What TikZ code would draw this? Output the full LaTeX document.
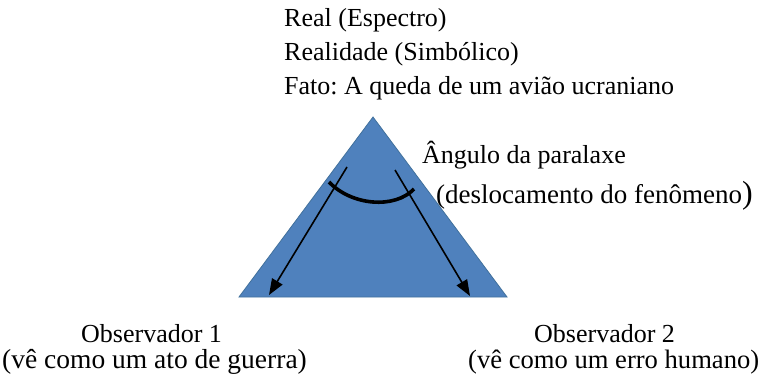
\documentclass[tikz,border=0pt]{standalone}
\usepackage{fontspec}
\setmainfont{Liberation Serif}
\usepackage{xcolor}
\usepackage{tikz}
\usetikzlibrary{arrows.meta,positioning}

\definecolor{triblue}{HTML}{4F81BD}
\definecolor{triedge}{HTML}{41719C}
\frenchspacing

\begin{document}
\begin{tikzpicture}[
  x=1pt, y=-1pt,
  txt/.style={inner sep=0pt, align=left, font=\fontsize{26}{34}\selectfont},
  obs/.style={inner sep=0pt, align=left, font=\fontsize{26}{26}\selectfont},
  arr/.style={-{Triangle[length=16pt,width=12pt]}, line width=1.6pt, draw=black},
  anglearc/.style={line width=3.6pt, draw=black}
]
\useasboundingbox (0,0) rectangle (763,374);
%% ── Triangle (corners) ──────────────────────────────────────────────────
\coordinate (apex) at (373,117);
\coordinate (bl)   at (239,297);
\coordinate (br)   at (507,297);
\filldraw[fill=triblue, draw=triedge, line width=0.8pt] (apex) -- (br) -- (bl) -- cycle;
%% ── Labels ──────────────────────────────────────────────────────────────
\node[txt, anchor=north west] (top) at (284,8)
  {Real (Espectro)\\Realidade (Simbólico)\\Fato: A queda de um avião ucraniano};
\node[txt, anchor=north west] (par) at (422,141)
  {Ângulo da paralaxe\\[6pt]\hspace*{14pt}{\fontsize{27}{27}\selectfont(deslocamento do fenômeno}{\fontsize{32}{32}\selectfont)}};
\node[obs, anchor=north west] (obsA) at (2,324)
  {\hspace*{79pt}Observador 1\\{\fontsize{27.5}{26}\selectfont(vê como um ato de guerra)}};
\node[obs, anchor=north west] (obsB) at (468,324)
  {\hspace*{66pt}Observador 2\\{\fontsize{26.6}{26}\selectfont(vê como um erro humano)}};
%% ── Arrows and angle ────────────────────────────────────────────────────
\coordinate (sA) at (347,167);
\coordinate (eA) at (269,295);
\coordinate (sB) at (395,170);
\coordinate (eB) at (470,296);
\draw[arr] (sA) -- (eA);
\draw[arr] (sB) -- (eB);
\coordinate (arcL) at (329,182);
\coordinate (arcR) at (414,189);
\draw[anglearc] (arcL) .. controls (352,206) and (395,209) .. (arcR);
\end{tikzpicture}
\end{document}
